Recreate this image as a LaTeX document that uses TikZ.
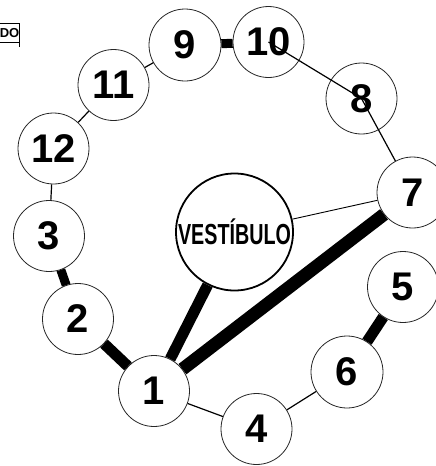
\documentclass[tikz,border=0pt]{standalone}
\usepackage{fontspec}
\setmainfont{Liberation Sans}
\begin{document}
\begin{tikzpicture}[x=1pt,y=-1pt,
  room/.style={circle,draw=black!85,line width=0.8pt,fill=white,inner sep=0pt,minimum size=71pt,
    font=\fontsize{40}{40}\selectfont\bfseries},
  hall/.style={circle,draw=black,line width=1.8pt,fill=white,inner sep=0pt,minimum size=117pt},
  thin/.style={line width=1.2pt},
  mid/.style={line width=9pt},
  heavy/.style={line width=11pt},
  heavier/.style={line width=13pt}]
\useasboundingbox (0,0) rectangle (436,466);
% partial legend box
\draw[line width=0.8pt] (-2,23) -- (19,23) -- (19,47);
\draw[line width=0.6pt] (-2,42) -- (19,42);
\node[anchor=east,inner sep=0pt,font=\fontsize{13}{13}\selectfont\bfseries] (leg) at (19.5,33) {DO};
% rooms
\node[room] (r1) at (154,391) {1};
\node[room] (r2) at (78,319) {2};
\node[room] (r3) at (49,236) {3};
\node[room] (r4) at (256.5,429) {4};
\node[room] (r5) at (403,287) {5};
\node[room,minimum size=72pt] (r6) at (347,372) {6};
\node[room] (r7) at (412.5,192.5) {7};
\node[room] (r8) at (361.5,98.5) {8};
\node[room,minimum size=72pt] (r9) at (185,45) {9};
\node[room] (r10) at (268.5,42) {10};
\node[room] (r11) at (113.5,85) {11};
\node[room] (r12) at (53.5,148.5) {12};
\node[hall] (v) at (234.5,232) {\scalebox{0.68}[1]{\fontsize{29}{29}\selectfont\bfseries VESTÍBULO}};
% connectors
\draw[mid] (r9) -- (r10);
\draw[thin] (r11) -- (r9);
\draw[thin] (r12) -- (r11);
\draw[thin] (r12) -- (r3);
\draw[mid] (r3) -- (r2);
\draw[heavy] (r2) -- (r1);
\draw[heavy] (r1) -- (v);
\draw[heavier] (r1) -- (r7);
\draw[thin,line width=0.9pt] (v) -- (r7);
\draw[heavy] (r5) -- (r6);
\draw[thin] (r6) -- (r4);
\draw[thin] (r4) -- (r1);
\draw[thin] (r10.center) -- (r8.center);
\draw[thin] (r8.center) -- (r7);
\end{tikzpicture}
\end{document}
